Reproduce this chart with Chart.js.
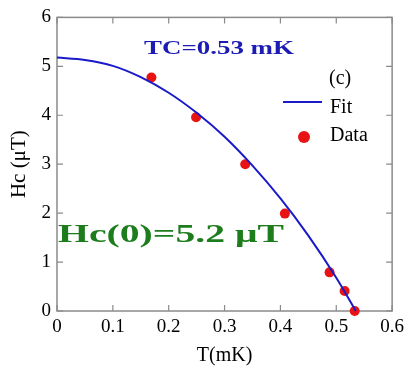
<!DOCTYPE html>
<html>
<head>
<meta charset="utf-8">
<script src="https://cdn.jsdelivr.net/npm/chart.js@4.4.1/dist/chart.umd.min.js"></script>
<style>
  html, body { margin: 0; padding: 0; background: #fff; }
</style>
</head>
<body>
<canvas id="hcChart" width="409" height="372"></canvas>
<script>
(function () {
  'use strict';

  // measured points
  var dataT = [0.169, 0.249, 0.337, 0.408, 0.488, 0.515, 0.533];
  var dataHc = [4.77, 3.96, 3.0, 1.99, 0.79, 0.41, 0.0];

  // fit curve
  var fitT = [0, 0.05, 0.1, 0.15, 0.2, 0.25, 0.3, 0.35, 0.4, 0.45, 0.5, 0.535];
  var fitHc = [5.18, 5.13, 5.01, 4.78, 4.46, 4.05, 3.56, 2.97, 2.3, 1.54, 0.68, 0.0];

  var xTicks = [0, 0.1, 0.2, 0.3, 0.4, 0.5, 0.6];
  var yTicks = [0, 1, 2, 3, 4, 5, 6];

  var serif = '"Liberation Serif", "Times New Roman", serif';
  var frameColor = '#8a8a8a';

  function pts(xs, ys) {
    return xs.map(function (x, i) { return { x: x, y: ys[i] }; });
  }

  function stretchText(ctx, text, cx, cy, font, color, width) {
    ctx.save();
    ctx.font = font;
    ctx.fillStyle = color;
    ctx.textAlign = 'center';
    ctx.textBaseline = 'middle';
    var w = ctx.measureText(text).width;
    ctx.translate(cx, cy);
    ctx.scale(width / w, 1);
    ctx.fillText(text, 0, 0);
    ctx.restore();
  }

  var framePlugin = {
    id: 'frame',
    beforeDatasetsDraw: function (chart) {
      var ctx = chart.ctx, a = chart.chartArea;
      var xs = chart.scales.x, ys = chart.scales.y;
      ctx.save();
      ctx.strokeStyle = frameColor;
      ctx.lineWidth = 1.5;
      ctx.strokeRect(a.left, a.top, a.right - a.left, a.bottom - a.top);
      ctx.lineWidth = 1.2;
      ctx.beginPath();
      xTicks.forEach(function (v) {
        var px = xs.getPixelForValue(v);
        ctx.moveTo(px, a.bottom); ctx.lineTo(px, a.bottom - 6);
        ctx.moveTo(px, a.top); ctx.lineTo(px, a.top + 6);
      });
      yTicks.forEach(function (v) {
        var py = ys.getPixelForValue(v);
        ctx.moveTo(a.left, py); ctx.lineTo(a.left + 6, py);
        ctx.moveTo(a.right, py); ctx.lineTo(a.right - 6, py);
      });
      ctx.stroke();
      ctx.restore();
    },
    afterDraw: function (chart) {
      var ctx = chart.ctx;
      var fit = chart.data.datasets[0], dat = chart.data.datasets[1];

      stretchText(ctx, 'TC=0.53 mK', 219, 49, 'bold 18px ' + serif, '#1c1cb4', 150);
      stretchText(ctx, 'Hc(0)=5.2 \u03bcT', 171, 236, 'bold 25px ' + serif, '#1d7d1d', 226);

      ctx.save();
      ctx.font = '20px ' + serif;
      ctx.fillStyle = '#000';
      ctx.textAlign = 'left';
      ctx.textBaseline = 'middle';
      ctx.fillText('(c)', 329, 79);
      ctx.fillText(fit.label, 330, 108);
      ctx.fillText(dat.label, 330, 136);

      ctx.strokeStyle = fit.borderColor;
      ctx.lineWidth = 2;
      ctx.beginPath();
      ctx.moveTo(283, 102);
      ctx.lineTo(322, 102);
      ctx.stroke();

      ctx.fillStyle = dat.backgroundColor;
      ctx.beginPath();
      ctx.arc(304, 137, 6, 0, Math.PI * 2);
      ctx.fill();
      ctx.restore();
    }
  };

  var ctx = document.getElementById('hcChart').getContext('2d');
  var hcChart = new Chart(ctx, {
    type: 'scatter',
    data: {
      datasets: [{
        label: 'Fit',
        data: pts(fitT, fitHc),
        showLine: true,
        borderColor: '#1a1ac8',
        borderWidth: 2,
        pointRadius: 0,
        tension: 0.4,
        cubicInterpolationMode: 'monotone',
        clip: false
      }, {
        label: 'Data',
        data: pts(dataT, dataHc),
        backgroundColor: '#e81414',
        borderWidth: 0,
        pointRadius: 5,
        clip: false
      }]
    },
    options: {
      responsive: false,
      animation: false,
      layout: { padding: { top: 15, right: 14, left: 0, bottom: 0 } },
      plugins: {
        legend: { display: false },
        tooltip: { enabled: false }
      },
      scales: {
        x: {
          type: 'linear',
          min: 0,
          max: 0.6,
          afterFit: function (s) { s.height = 61; },
          afterBuildTicks: function (s) {
            s.ticks = xTicks.map(function (v) { return { value: v }; });
          },
          grid: { display: false, drawTicks: false },
          border: { display: false },
          ticks: {
            padding: 5,
            color: '#000',
            font: { family: serif, size: 19 },
            maxRotation: 0,
            callback: function (v) { return String(v); }
          },
          title: {
            display: true,
            text: 'T(mK)',
            color: '#000',
            font: { family: serif, size: 20 },
            padding: { top: 0, bottom: 4 }
          }
        },
        y: {
          type: 'linear',
          min: 0,
          max: 6,
          afterFit: function (s) { s.width = 57; },
          afterBuildTicks: function (s) {
            s.ticks = yTicks.map(function (v) { return { value: v }; });
          },
          grid: { display: false, drawTicks: false },
          border: { display: false },
          ticks: {
            padding: 6,
            color: '#000',
            font: { family: serif, size: 19 }
          },
          title: {
            display: true,
            text: 'Hc (\u03bcT)',
            color: '#000',
            font: { family: serif, size: 21 },
            padding: { top: 7, bottom: 0 }
          }
        }
      }
    },
    plugins: [framePlugin]
  });
})();
</script>
</body>
</html>
